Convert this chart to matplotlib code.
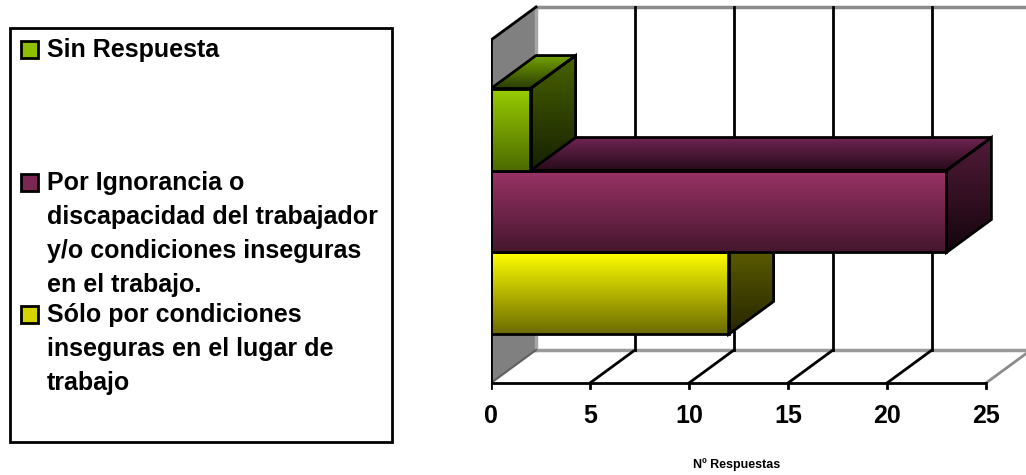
import numpy as np
import matplotlib.pyplot as plt
from matplotlib.patches import Polygon, Rectangle
from matplotlib.colors import LinearSegmentedColormap

# series, bottom to top
series = ['Sólo por condiciones\ninseguras en el lugar de\ntrabajo',
          'Por Ignorancia o\ndiscapacidad del trabajador\ny/o condiciones inseguras\nen el trabajo.',
          'Sin Respuesta']
values = [12, 23, 2]
x_ticks = [0, 5, 10, 15, 20, 25]
x_title = 'Nº Respuestas'

# (top, bottom) colours of each face
front_colors = [('#ffff00', '#6a6a00'), ('#9a3366', '#46162e'), ('#99cc00', '#4c6a00')]
side_colors = [('#6e6e00', '#262600'), ('#521b38', '#14050d'), ('#486200', '#162000')]
roof_colors = [('#6e6e00', '#262600'), ('#6e2450', '#260a18'), ('#73a000', '#283a00')]
legend_colors = ['#d4d400', '#7a2852', '#8ec000']

plt.rcParams['font.family'] = ['Liberation Sans', 'DejaVu Sans']
plt.rcParams['font.weight'] = 'bold'

W, H = 1026, 475
fig = plt.figure(figsize=(W / 100, H / 100), dpi=100)

# front floor corner in pixels and pixel size of one unit on each axis
x0_px, y0_px = 491, 92
ux, uy = 495 / 25, 343 / 3
ax = fig.add_axes([x0_px / W, 0, (W - x0_px) / W, 1])
xmax = (W - x0_px) / ux
ymin, ymax = -y0_px / uy, (H - y0_px) / uy
ax.axis('off')

DX, DY = 45 / ux, 33 / uy   # depth of the box
TOP = 3
bar_h = 0.717
start = TOP / 2 - 1.5 * bar_h


def shaded(verts, c_top, c_bottom, z):
    poly = Polygon(verts, closed=True, facecolor='none', edgecolor='black',
                   lw=2, joinstyle='miter', zorder=z + 0.5)
    ax.add_patch(poly)
    xs, ys = zip(*verts)
    cmap = LinearSegmentedColormap.from_list('face', [c_bottom, c_top])
    grad = np.linspace(0, 1, 256).reshape(-1, 1)
    im = ax.imshow(grad, cmap=cmap, origin='lower', aspect='auto',
                   extent=[min(xs), max(xs), min(ys), max(ys)],
                   interpolation='bilinear', zorder=z)
    im.set_clip_path(poly)


# left wall
ax.add_patch(Polygon([(0, 0), (DX, DY), (DX, TOP + DY), (0, TOP)],
                     facecolor='#808080', edgecolor='none', zorder=1))
ax.plot([0, DX], [TOP, TOP + DY], color='black', lw=2, zorder=1.2)
ax.plot([0, DX], [0, DY], color='#606060', lw=1.5, zorder=1.2)
ax.plot([DX, DX], [DY, TOP + DY], color='#a6a6a6', lw=2.5, zorder=1.1)

# back wall and floor edges
ax.plot([DX, xmax + 1], [TOP + DY, TOP + DY], color='#8c8c8c', lw=2.5, zorder=1.1)
ax.plot([DX, xmax + 1], [DY, DY], color='#9a9a9a', lw=2.5, zorder=1.1)
for t in x_ticks[1:]:
    edge = '#8c8c8c' if t == x_ticks[-1] else 'black'
    ax.plot([t + DX, t + DX], [DY, TOP + DY], color='black', lw=2, zorder=1.3)
    ax.plot([t, t + DX], [0, DY], color=edge, lw=2, zorder=1.3)

# bars, drawn bottom to top so upper fronts cover lower roofs
for i, v in enumerate(values):
    b = start + i * bar_h
    t = b + bar_h
    z = 3 + i
    shaded([(0, t), (v, t), (v + DX, t + DY), (DX, t + DY)], *roof_colors[i], z)
    shaded([(v, b), (v + DX, b + DY), (v + DX, t + DY), (v, t)], *side_colors[i], z)
    shaded([(0, b), (v, b), (v, t), (0, t)], *front_colors[i], z)

# axes lines and ticks
tick_x = 7 / ux
tick_y = 5 / uy
ax.plot([-tick_x, x_ticks[-1]], [0, 0], color='black', lw=2, zorder=10,
        solid_capstyle='butt')
ax.plot([0, 0], [0, TOP], color='black', lw=2, zorder=10)
ax.plot([-tick_x, 0], [TOP, TOP], color='black', lw=2, zorder=10)
for t in x_ticks:
    ax.plot([t, t], [0, -tick_y], color='black', lw=2, zorder=10)
    ax.text(t, -33 / uy, str(t), ha='center', va='center', fontsize=18,
            fontweight='bold')
ax.text(12.4, -82 / uy, x_title, ha='center', va='center', fontsize=9,
        fontweight='bold')

ax.set_xlim(0, xmax)
ax.set_ylim(ymin, ymax)

# legend box
fig.add_artist(Rectangle((10 / W, (H - 442) / H), 382 / W, 414 / H,
                         transform=fig.transFigure, fill=False,
                         edgecolor='black', lw=2))
entry_y = [50, 183, 315]
line_step = 34
for label, color, y in zip(reversed(series), reversed(legend_colors), entry_y):
    fig.add_artist(Rectangle((21 / W, (H - y - 8) / H), 17 / W, 17 / H,
                             transform=fig.transFigure, facecolor=color,
                             edgecolor='black', lw=2))
    for k, line in enumerate(label.split('\n')):
        fig.text(47 / W, (H - y - k * line_step) / H, line, ha='left',
                 va='center', fontsize=18, fontweight='bold')

fig.savefig('out.png', dpi=100)
